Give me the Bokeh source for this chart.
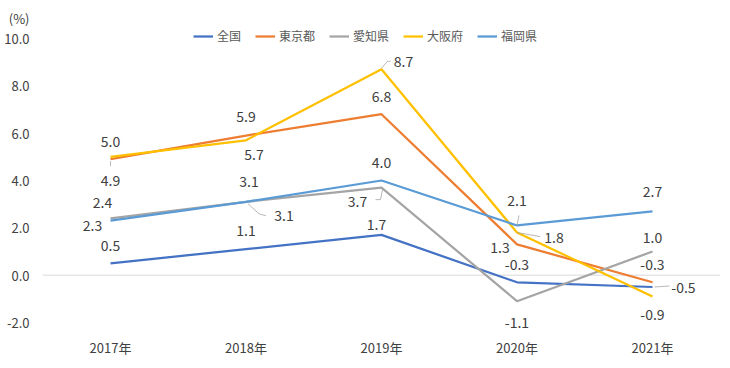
from bokeh.plotting import figure
from bokeh.models import (ColumnDataSource, Range1d, FixedTicker, NumeralTickFormatter,
                          Legend, LegendItem)
from bokeh.embed import file_html
from bokeh.resources import INLINE

# ---- data ----
years = ["2017年", "2018年", "2019年", "2020年", "2021年"]
series_names = ["全国", "東京都", "愛知県", "大阪府", "福岡県"]
zenkoku = [0.5, 1.1, 1.7, -0.3, -0.5]
tokyo = [4.9, 5.9, 6.8, 1.3, -0.3]
aichi = [2.4, 3.1, 3.7, -1.1, 1.0]
osaka = [5.0, 5.7, 8.7, 1.8, -0.9]
fukuoka = [2.3, 3.1, 4.0, 2.1, 2.7]
y_ticks = [-2, 0, 2, 4, 6, 8, 10]
unit_label = "(%)"

# ---- styles ----
colors = ["#4472C4", "#ED7D31", "#A5A5A5", "#FFC000", "#5B9BD5"]
values = [zenkoku, tokyo, aichi, osaka, fukuoka]
# label offsets in px (dx, dy; dy positive = down)
label_offsets = [
    [(0, -18), (0, -19), (-5, -10), (0, -18), (31, 0)],
    [(0, 21), (0, -19), (0, -18), (-17, 3), (0, -18)],
    [(-8, -16), (38, 14), (-24, 14), (0, 21), (0, -14)],
    [(0, -15), (8, 14), (22, -8), (37, 5), (0, 18)],
    [(-18, 5), (3, -20), (0, -18), (0, -25), (0, -20)],
]
# leader polylines in px relative to the point
leaders = [
    (0, 4, [(2, 0), (17, -1)]),
    (1, 0, [(0, 2), (0, 7)]),
    (2, 1, [(2, 2), (13, 12), (20, 14)]),
    (2, 2, [(1, 2), (-1, 12), (-6, 12)]),
    (3, 2, [(0, -1), (6, -8), (9, -8)]),
    (3, 3, [(0, 0), (23, 4)]),
    (4, 3, [(0, 0), (2, -10)]),
]

FONT = "Noto Sans CJK JP"
W, H = 728, 366
FL, FR, FT, FB = 31, 728, 2, 334          # frame edges in px
# pixel mapping: category 0 at 110px, category 4 at 652px; y=10 at 38px, y=-2 at 322px
PXX = (652 - 110) / 4
PXY = (322 - 38) / 12
X0 = (FL - 110) / PXX
X1 = (FR - 110) / PXX
Y1 = 10 + (38 - FT) / PXY
Y0 = -2 - (FB - 322) / PXY

p = figure(width=W, height=H, output_backend="svg", toolbar_location=None,
           x_range=Range1d(X0, X1), y_range=Range1d(Y0, Y1),
           min_border_left=FL, min_border_right=W - FR, min_border_top=FT,
           min_border_bottom=H - FB)
p.outline_line_color = None
p.xgrid.visible = False
p.ygrid.visible = False
p.background_fill_color = "white"
p.border_fill_color = "white"

xs = list(range(len(years)))
# category axis line at zero
p.segment(x0=[xs[0] - 0.5], y0=[0], x1=[xs[-1] + 0.5], y1=[0], line_color="#D9D9D9", line_width=1)

renderers = []
for name, vals, col in zip(series_names, values, colors):
    r = p.line(xs, vals, line_color=col, line_width=2.25)
    renderers.append(r)

# leaders
lx, ly = [], []
for si, pi, pts in leaders:
    lx.append([xs[pi] + dx / PXX for dx, dy in pts])
    ly.append([values[si][pi] - dy / PXY for dx, dy in pts])
p.multi_line(lx, ly, line_color="#A6A6A6", line_width=0.8)

# data labels
for vals, offs in zip(values, label_offsets):
    src = ColumnDataSource(dict(x=xs, y=vals, t=[f"{v:.1f}" for v in vals],
                                xo=[o[0] for o in offs], yo=[o[1] for o in offs]))
    p.text(x="x", y="y", text="t", x_offset="xo", y_offset="yo", source=src,
           text_align="center", text_baseline="middle", text_font_size="14px",
           text_color="#404040", text_font={"value": FONT})

# axes
unit_pos = 10 + (38 - 18) / PXY
p.yaxis.ticker = FixedTicker(ticks=y_ticks + [unit_pos])
p.yaxis.formatter = NumeralTickFormatter(format="0.0")
p.yaxis.major_label_overrides = {unit_pos: unit_label}
p.yaxis.axis_line_color = None
p.yaxis.major_tick_line_color = None
p.yaxis.minor_tick_line_color = None
p.yaxis.major_tick_out = 0
p.yaxis.major_tick_in = 0
p.yaxis.major_label_standoff = 2
p.yaxis.major_label_text_font = FONT
p.yaxis.major_label_text_font_size = "13px"
p.yaxis.major_label_text_color = "#404040"

p.xaxis.ticker = FixedTicker(ticks=xs)
p.xaxis.major_label_overrides = {i: y for i, y in zip(xs, years)}
p.xaxis.axis_line_color = None
p.xaxis.major_tick_line_color = None
p.xaxis.minor_tick_line_color = None
p.xaxis.major_tick_out = 0
p.xaxis.major_tick_in = 0
p.xaxis.major_label_standoff = 3
p.xaxis.major_label_text_font = FONT
p.xaxis.major_label_text_font_size = "13px"
p.xaxis.major_label_text_color = "#404040"

legend = Legend(items=[LegendItem(label=n, renderers=[r]) for n, r in zip(series_names, renderers)],
                orientation="horizontal", location=(193 - FL, FB - 44))
legend.background_fill_alpha = 0
legend.border_line_color = None
legend.padding = 0
legend.margin = 0
legend.spacing = 14
legend.glyph_width = 20
legend.glyph_height = 14
legend.label_height = 14
legend.label_standoff = 4
legend.label_text_font = FONT
legend.label_text_font_size = "12px"
legend.label_text_color = "#595959"
p.add_layout(legend)

open("out.html", "w").write(file_html(p, INLINE))
